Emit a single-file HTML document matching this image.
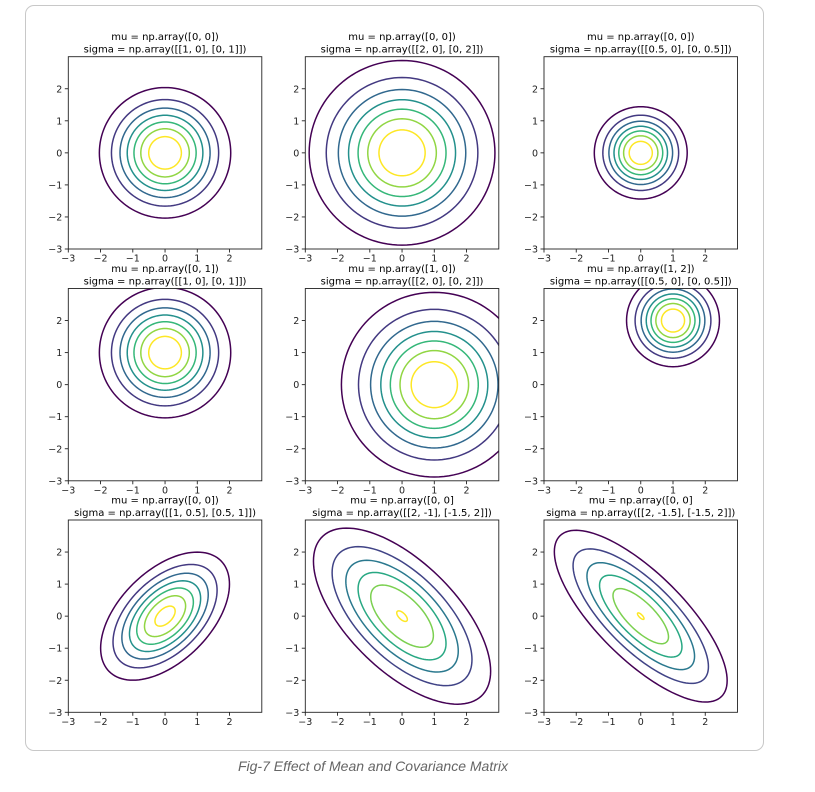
<!DOCTYPE html>
<html><head><meta charset="utf-8">
<style>
body{margin:0;width:815px;height:792px;background:#fff;overflow:hidden;font-family:"DejaVu Sans","Liberation Sans",sans-serif}
#card{position:absolute;left:25px;top:5px;width:739px;height:746px;border:1px solid #c8c8c8;border-radius:9px;box-sizing:border-box}
#cap{position:absolute;left:0;width:746px;top:758px;text-align:center;font-style:italic;color:#666;font-size:14px;font-family:"Liberation Sans",sans-serif}
svg{position:absolute;left:0;top:0}
</style></head><body>
<div id="card"></div>
<div id="cap">Fig-7 Effect of Mean and Covariance Matrix</div>
<svg id="fig" width="815" height="792"></svg>
<script>
const titles1 = ["mu = np.array([0, 0])","mu = np.array([0, 0])","mu = np.array([0, 0])","mu = np.array([0, 1])","mu = np.array([1, 0])","mu = np.array([1, 2])","mu = np.array([0, 0])","mu = np.array([0, 0]","mu = np.array([0, 0]"];
const titles2 = ["sigma = np.array([[1, 0], [0, 1]])","sigma = np.array([[2, 0], [0, 2]])","sigma = np.array([[0.5, 0], [0, 0.5]])","sigma = np.array([[1, 0], [0, 1]])","sigma = np.array([[2, 0], [0, 2]])","sigma = np.array([[0.5, 0], [0, 0.5]])","sigma = np.array([[1, 0.5], [0.5, 1]])","sigma = np.array([[2, -1], [-1.5, 2]])","sigma = np.array([[2, -1.5], [-1.5, 2]])"];
const mus = [[0,0],[0,0],[0,0],[0,1],[1,0],[1,2],[0,0],[0,0],[0,0]];
const sigmas = [[[1,0],[0,1]],[[2,0],[0,2]],[[0.5,0],[0,0.5]],[[1,0],[0,1]],[[2,0],[0,2]],[[0.5,0],[0,0.5]],[[1,0.5],[0.5,1]],[[2,-1],[-1.5,2]],[[2,-1.5],[-1.5,2]]];
const levels = [
 [0.02,0.04,0.06,0.08,0.10,0.12,0.14],
 [0.01,0.02,0.03,0.04,0.05,0.06,0.07],
 [0.04,0.08,0.12,0.16,0.20,0.24,0.28],
 [0.02,0.04,0.06,0.08,0.10,0.12,0.14],
 [0.01,0.02,0.03,0.04,0.05,0.06,0.07],
 [0.04,0.08,0.12,0.16,0.20,0.24,0.28],
 [0.025,0.05,0.075,0.10,0.125,0.15,0.175],
 [0.016,0.032,0.048,0.064,0.08,0.1],
 [0.02,0.04,0.06,0.08,0.10,0.12]
];
const xTicks = [-3,-2,-1,0,1,2];
const yTicks = [-3,-2,-1,0,1,2];
const viridis=[[68,1,84],[72,40,120],[62,74,137],[49,104,142],[38,130,142],[31,158,137],[53,183,121],[109,205,89],[180,222,44],[253,231,37]];
function vir(t){const p=t*9,i=Math.min(8,Math.floor(p)),f=p-i;const a=viridis[i],b=viridis[i+1];return `rgb(${a.map((v,k)=>Math.round(v+(b[k]-v)*f)).join(',')})`;}
const NS="http://www.w3.org/2000/svg";
const fig=document.getElementById('fig');
function mk(tag,attrs,parent){const e=document.createElementNS(NS,tag);for(const k in attrs)e.setAttribute(k,attrs[k]);(parent||fig).appendChild(e);return e;}
const lefts=[68.3,305.3,544],tops=[56.7,288.5,520],W=193.5,H=192.3;
for(let p=0;p<9;p++){
 const L=lefts[p%3],T=tops[Math.floor(p/3)];
 const sx=v=>L+(v+3)/6*W, sy=v=>T+H-(v+3)/6*H;
 const g=mk('g',{});
 
 
 const cp=mk('clipPath',{id:'c'+p},g);mk('rect',{x:L,y:T,width:W,height:H},cp);
 const s=sigmas[p],det=s[0][0]*s[1][1]-s[0][1]*s[1][0];
 const Pi=[[s[1][1]/det,-s[0][1]/det],[-s[1][0]/det,s[0][0]/det]];
 const Ps=[[Pi[0][0],(Pi[0][1]+Pi[1][0])/2],[(Pi[0][1]+Pi[1][0])/2,Pi[1][1]]];
 const pd=Ps[0][0]*Ps[1][1]-Ps[0][1]*Ps[0][1];
 const C=[[Ps[1][1]/pd,-Ps[0][1]/pd],[-Ps[0][1]/pd,Ps[0][0]/pd]];
 const a=Math.sqrt(C[0][0]),b=C[0][1]/a,d=Math.sqrt(C[1][1]-b*b);
 const pmax=1/(2*Math.PI*Math.sqrt(Math.abs(det)));
 const lv=levels[p],n=lv.length;
 const cg=mk('g',{'clip-path':`url(#c${p})`},g);
 lv.forEach((lev,i)=>{
  const r2=-2*Math.log(lev/pmax); if(!(r2>0))return; const r=Math.sqrt(r2);
  let dstr='';
  for(let k=0;k<=120;k++){const t=k/120*2*Math.PI,u=r*Math.cos(t),v=r*Math.sin(t);
   const x=mus[p][0]+a*u,y=mus[p][1]+b*u+d*v;dstr+=(k?'L':'M')+sx(x).toFixed(2)+' '+sy(y).toFixed(2);}
  const path=mk('path',{d:dstr+'Z',fill:'none',stroke:vir(n>1?i/(n-1):0),'stroke-width':1.5},cg);
  
  
 });
 const fr=mk('rect',{x:L,y:T,width:W,height:H,fill:'none',stroke:'#222','stroke-width':0.9},g);
 
 
 xTicks.forEach(v=>{const x=sx(v);mk('line',{x1:x,x2:x,y1:T+H,y2:T+H+3.5,stroke:'#222','stroke-width':0.9},g);
  const t=mk('text',{x:x,y:T+H+12.5,'font-size':9.5,'text-anchor':'middle',fill:'#222'},g);t.textContent=v<0?'\u2212'+(-v):v;
  
  });
 yTicks.forEach(v=>{const y=sy(v);mk('line',{x1:L-3.5,x2:L,y1:y,y2:y,stroke:'#222','stroke-width':0.9},g);
  const t=mk('text',{x:L-6,y:y+3.5,'font-size':9.5,'text-anchor':'end',fill:'#222'},g);t.textContent=v<0?'\u2212'+(-v):v;
  
  });
 const t1=mk('text',{x:L+W/2,y:T-16.5,'font-size':10,'text-anchor':'middle',fill:'#000'},g);t1.textContent=titles1[p];
 
 
 const t2=mk('text',{x:L+W/2,y:T-4,'font-size':10,'text-anchor':'middle',fill:'#000'},g);t2.textContent=titles2[p];
 
 
}
</script>
</body></html>
